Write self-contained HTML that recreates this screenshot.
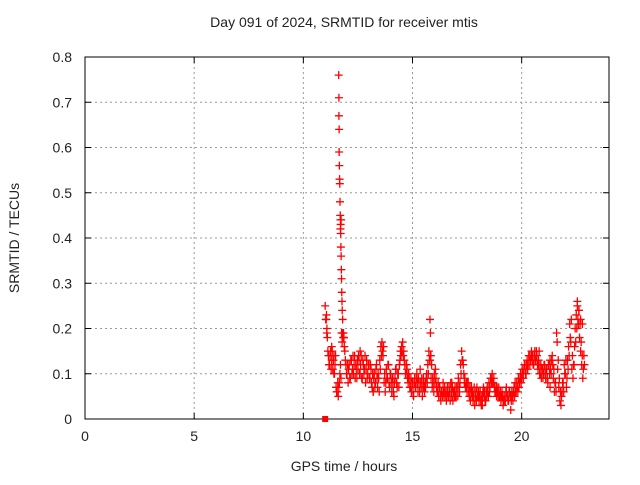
<!DOCTYPE html>
<html><head><meta charset="utf-8"><style>
body{margin:0;background:#fff;}
svg text{font-family:"Liberation Sans",sans-serif;font-size:14px;fill:#222;}
</style></head><body>
<svg id="chart" width="640" height="480" viewBox="0 0 640 480" xmlns="http://www.w3.org/2000/svg">
<rect width="640" height="480" fill="#fff"/>
<text x="344" y="32" text-anchor="middle" dy="-5">Day 091 of 2024, SRMTID for receiver mtis</text>
<text x="344" y="466" text-anchor="middle" dy="5">GPS time / hours</text>
<text transform="translate(19,238) rotate(-90)" text-anchor="middle">SRMTID / TECUs</text>
<g id="grid"></g><g id="axes"></g><g id="marks"></g>
</svg>
<script>
const xTicks=[0,5,10,15,20];
const yTicks=[0,0.1,0.2,0.3,0.4,0.5,0.6,0.7,0.8];
const yTickLabels=["0","0.1","0.2","0.3","0.4","0.5","0.6","0.7","0.8"];
const mainStart=11.0, mainStep=0.05;
const mainValues=[.25,.22,.18,.14,.12,.15,.13,.11,.14,.12,
.07,.06,.05,.08,.12,.19,.19,.18,.15,.12,
.10,.08,.12,.09,.13,.11,.10,.14,.12,.09,
.11,.13,.10,.14,.09,.12,.11,.08,.13,.10,
.12,.09,.11,.07,.06,.10,.08,.12,.07,.09,
.13,.16,.17,.14,.08,.06,.11,.09,.12,.07,
.10,.06,.08,.05,.09,.11,.07,.10,.12,.15,
.16,.17,.15,.12,.10,.11,.08,.09,.07,.06,
.08,.05,.09,.07,.10,.06,.08,.11,.07,.05,
.09,.06,.07,.10,.12,.15,.13,.09,.07,.08,
.10,.11,.07,.06,.05,.07,.04,.06,.08,.05,
.06,.04,.07,.05,.06,.08,.05,.04,.06,.07,
.05,.07,.09,.06,.12,.15,.13,.10,.09,.07,
.06,.08,.05,.04,.07,.06,.05,.03,.06,.07,
.05,.04,.06,.03,.05,.07,.06,.04,.05,.06,
.08,.07,.09,.10,.08,.07,.06,.05,.06,.07,
.05,.04,.06,.03,.05,.04,.07,.05,.04,.06,
.05,.06,.04,.07,.08,.06,.07,.09,.08,.10,
.09,.10,.11,.12,.10,.13,.12,.14,.13,.15,
.14,.12,.15,.13,.14,.11,.12,.10,.09,.11,
.10,.12,.09,.11,.08,.12,.13,.10,.14,.09,
.06,.08,.19,.11,.07,.04,.03,.06,.08,.12,
.10,.07,.13,.16,.21,.17,.11,.09,.12,.20,
.23,.25,.21,.18,.15,.12,.09,.14];
const secondValues=[.22,.19,.15,.12,.14,.11,.15,.13,.10,.14,
.06,.08,.07,.10,.09,.17,.18,.16,.13,.10,
.12,.11,.09,.13,.10,.14,.12,.09,.11,.13,
.14,.10,.12,.09,.13,.10,.14,.11,.09,.12,
.09,.12,.08,.10,.09,.07,.11,.09,.10,.06,
.11,.14,.15,.16,.10,.08,.09,.12,.08,.10,
.08,.09,.06,.08,.11,.08,.10,.07,.13,.14,
.15,.14,.13,.10,.12,.09,.10,.07,.09,.08,
.06,.08,.07,.09,.08,.09,.06,.08,.09,.07,
.07,.08,.09,.08,.10,.13,.14,.12,.09,.06,
.08,.09,.06,.08,.07,.05,.06,.05,.06,.07,
.05,.06,.05,.07,.04,.06,.07,.06,.05,.05,
.07,.05,.07,.08,.10,.13,.12,.08,.07,.08,
.08,.06,.07,.06,.05,.04,.07,.05,.04,.05,
.06,.05,.04,.05,.06,.05,.04,.06,.07,.05,
.06,.09,.08,.08,.09,.06,.07,.07,.05,.05,
.06,.05,.05,.04,.04,.06,.05,.04,.06,.05,
.04,.05,.06,.05,.06,.08,.06,.07,.09,.08,
.11,.09,.12,.10,.12,.11,.14,.12,.14,.13,
.12,.14,.13,.15,.12,.13,.10,.12,.11,.09,
.12,.10,.11,.09,.12,.10,.11,.13,.12,.11,
.08,.06,.17,.13,.09,.06,.05,.08,.06,.10,
.13,.09,.11,.14,.18,.22,.14,.12,.16,.17,
.20,.22,.24,.21,.17,.14,.11,.12];
const extraTimes=[11.62,11.63,11.63,11.64,11.64,11.65,11.66,11.67,11.68,11.69,11.70,11.70,11.71,11.72,11.73,11.74,11.75,11.76,11.77,11.78,11.80,11.06,11.08,15.80,15.82,15.84,22.55,22.62,22.70,22.78,12.6,13.2,14.1,16.8,18.2,19.5,11.3,11.4,20.8,21.3,11.71,11.73,11.84,11.86];
const extraValues=[.76,.71,.67,.64,.59,.56,.53,.52,.48,.45,.44,.42,.41,.38,.36,.33,.31,.28,.26,.24,.22,.23,.20,.22,.19,.14,.26,.24,.22,.21,.15,.06,.09,.08,.03,.02,.16,.10,.15,.07,.43,.44,.19,.18];
const squareTimes=[11.0];
const squareValues=[0];
const X0=85,X1=609,Y0=419,Y1=57,XMAX=24,YMAX=0.8;
const sx=t=>X0+(X1-X0)*t/XMAX, sy=v=>Y0-(Y0-Y1)*v/YMAX;
const NS="http://www.w3.org/2000/svg";
function mk(tag,attrs,parent){const e=document.createElementNS(NS,tag);for(const k in attrs)e.setAttribute(k,attrs[k]);parent.appendChild(e);return e;}
const grid=document.getElementById('grid'),axes=document.getElementById('axes'),marks=document.getElementById('marks');
xTicks.forEach(t=>{const x=sx(t);
 if(t>0){const g=mk('line',{x1:x,x2:x,y1:Y1,y2:Y0,stroke:'#999','stroke-dasharray':'2,3'},grid);
 
 }
 mk('line',{x1:x,x2:x,y1:Y0,y2:Y0-6,stroke:'#000'},axes);
 mk('line',{x1:x,x2:x,y1:Y1,y2:Y1+6,stroke:'#000'},axes);
 const l=mk('text',{x:x,y:Y0+22,'text-anchor':'middle'},axes);l.textContent=t;
 
 });
yTicks.forEach((v,i)=>{const y=sy(v);
 if(v>0&&v<YMAX){const g=mk('line',{x1:X0,x2:X1,y1:y,y2:y,stroke:'#999','stroke-dasharray':'2,3'},grid);
 
 }
 mk('line',{x1:X0,x2:X0+6,y1:y,y2:y,stroke:'#000'},axes);
 mk('line',{x1:X1,x2:X1-6,y1:y,y2:y,stroke:'#000'},axes);
 const l=mk('text',{x:X0-13,y:y+5,'text-anchor':'end'},axes);l.textContent=yTickLabels[i];
 
 });
const frame=mk('rect',{x:X0,y:Y1,width:X1-X0,height:Y0-Y1,fill:'none',stroke:'#000'},axes);


function plus(t,v){const x=sx(t),y=sy(v);
 const p=mk('path',{d:`M${x-4},${y}H${x+4}M${x},${y-4}V${y+4}`,stroke:'#f00','stroke-width':1.3},marks);
 
 }
mainValues.forEach((v,i)=>plus(mainStart+i*mainStep,v));
secondValues.forEach((v,i)=>plus(mainStart+0.025+i*mainStep,v));
extraTimes.forEach((t,i)=>plus(t,extraValues[i]));
squareTimes.forEach((t,i)=>{const r=mk('rect',{x:sx(t)-3,y:sy(squareValues[i])-3,width:6,height:6,fill:'#f00'},marks);
 
 });
</script>
</body></html>
